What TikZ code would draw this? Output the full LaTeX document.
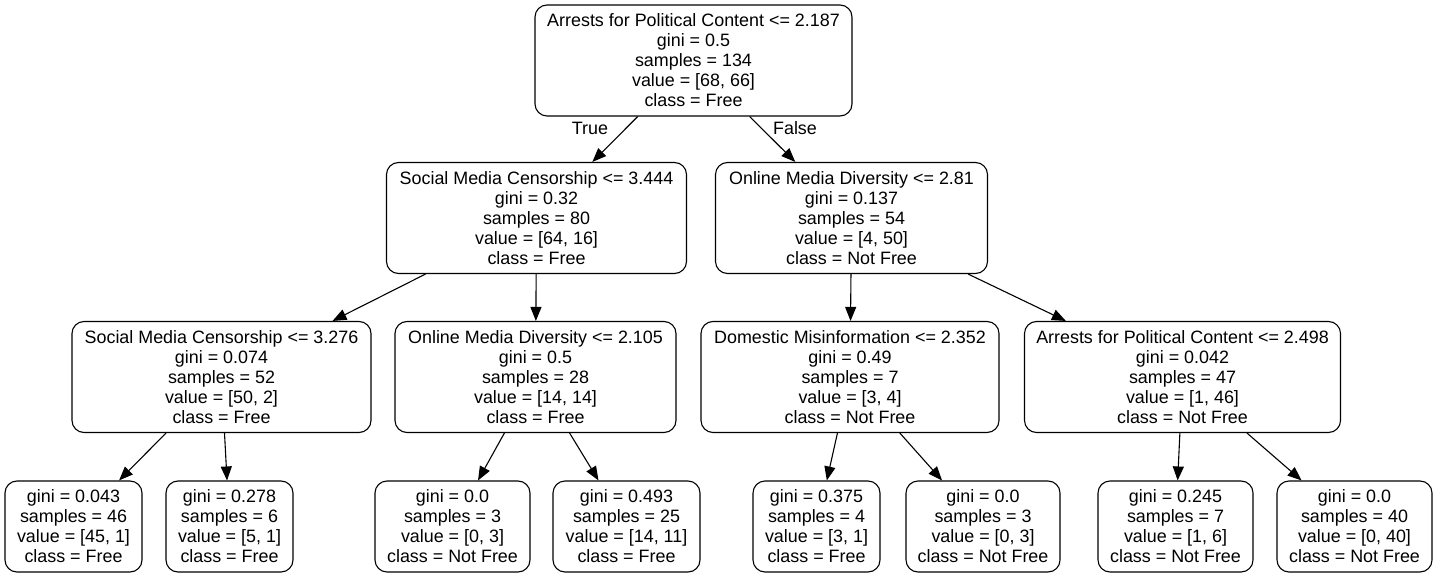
\documentclass[tikz,border=0pt]{standalone}
\usepackage{fontspec}
\setmainfont{Liberation Sans}
\usetikzlibrary{arrows.meta}

\begin{document}
\begin{tikzpicture}[x=1pt, y=-1pt,
            split/.style={rectangle, rounded corners=12pt, draw, line width=1.1pt, align=center, inner sep=0pt, font=\fontsize{17.9}{20}\selectfont, minimum height=111pt},
            leaf/.style={split, minimum height=91pt},
            edge/.style={-{Triangle[length=14pt,width=11pt]}, line width=1.1pt},
            lbl/.style={font=\fontsize{17.9}{20}\selectfont}
        ]
            \useasboundingbox (0,0) rectangle (1437,577);
            % root and first split
            \node[split, minimum width=317pt] (root) at (693.5,60.5) {Arrests for Political Content <= 2.187\\gini = 0.5\\samples = 134\\value = [68, 66]\\class = Free};
            \node[split, minimum width=300pt] (smcA) at (536.5,218) {Social Media Censorship <= 3.444\\gini = 0.32\\samples = 80\\value = [64, 16]\\class = Free};
            \node[split, minimum width=272pt] (omdA) at (851.5,218) {Online Media Diversity <= 2.81\\gini = 0.137\\samples = 54\\value = [4, 50]\\class = Not Free};
            
            % second level
            \node[split, minimum width=299pt] (smcB) at (221.5,377) {Social Media Censorship <= 3.276\\gini = 0.074\\samples = 52\\value = [50, 2]\\class = Free};
            \node[split, minimum width=281pt] (omdB) at (535.5,377) {Online Media Diversity <= 2.105\\gini = 0.5\\samples = 28\\value = [14, 14]\\class = Free};
            \node[split, minimum width=298pt] (dmB) at (850,377) {Domestic Misinformation <= 2.352\\gini = 0.49\\samples = 7\\value = [3, 4]\\class = Not Free};
            \node[split, minimum width=316pt] (apcB) at (1182.5,377) {Arrests for Political Content <= 2.498\\gini = 0.042\\samples = 47\\value = [1, 46]\\class = Not Free};
            
            % leaves
            \node[leaf, minimum width=137pt] (leafA) at (73.5,526.5) {gini = 0.043\\samples = 46\\value = [45, 1]\\class = Free};
            \node[leaf, minimum width=127pt] (leafB) at (229.5,526.5) {gini = 0.278\\samples = 6\\value = [5, 1]\\class = Free};
            \node[leaf, minimum width=155pt] (leafC) at (452.5,526.5) {gini = 0.0\\samples = 3\\value = [0, 3]\\class = Not Free};
            \node[leaf, minimum width=147pt] (leafD) at (626.5,526.5) {gini = 0.493\\samples = 25\\value = [14, 11]\\class = Free};
            \node[leaf, minimum width=127pt] (leafE) at (816.5,526.5) {gini = 0.375\\samples = 4\\value = [3, 1]\\class = Free};
            \node[leaf, minimum width=154pt] (leafF) at (983,526.5) {gini = 0.0\\samples = 3\\value = [0, 3]\\class = Not Free};
            \node[leaf, minimum width=155pt] (leafG) at (1175.5,526.5) {gini = 0.245\\samples = 7\\value = [1, 6]\\class = Not Free};
            \node[leaf, minimum width=155pt] (leafH) at (1354.5,526.5) {gini = 0.0\\samples = 40\\value = [0, 40]\\class = Not Free};
            
            \draw[edge] (root) -- (smcA);
            \draw[edge] (root) -- (omdA);
            \draw[edge] (smcA) -- (smcB);
            \draw[edge] (smcA) -- (omdB);
            \draw[edge] (omdA) -- (dmB);
            \draw[edge] (omdA) -- (apcB);
            \draw[edge] (smcB) -- (leafA);
            \draw[edge] (smcB) -- (leafB);
            \draw[edge] (omdB) -- (leafC);
            \draw[edge] (omdB) -- (leafD);
            \draw[edge] (dmB) -- (leafE);
            \draw[edge] (dmB) -- (leafF);
            \draw[edge] (apcB) -- (leafG);
            \draw[edge] (apcB) -- (leafH);
            
            \node[lbl] (yes) at (590,128) {True};
            \node[lbl] (no) at (795,128) {False};
        \end{tikzpicture}
\end{document}
